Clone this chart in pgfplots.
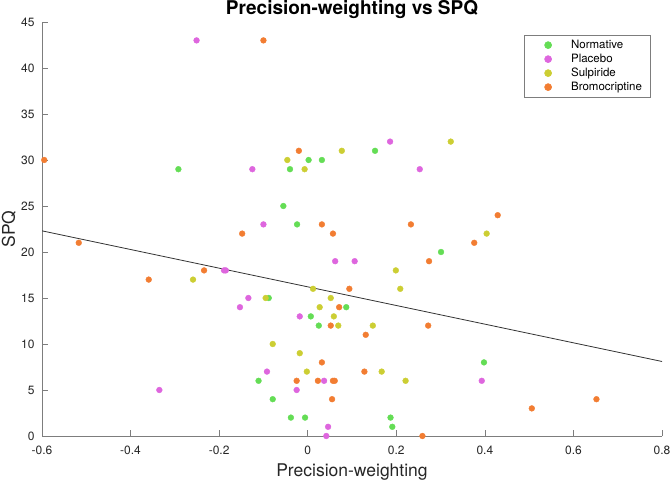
\documentclass[border=0pt]{standalone}
\usepackage{fontspec}
\setmainfont{TeX Gyre Heros}
\usepackage{pgfplots}
\pgfplotsset{compat=1.18}
\definecolor{cnorm}{RGB}{100,221,85}
\definecolor{cplac}{RGB}{222,102,222}
\definecolor{csulp}{RGB}{204,206,51}
\definecolor{cbrom}{RGB}{242,125,50}
\definecolor{axgray}{RGB}{125,125,125}
\begin{document}
\begin{tikzpicture}
\useasboundingbox (0,0) rectangle (671bp,480bp);
\begin{axis}[
  at={(42bp,44bp)}, anchor=south west,
  scale only axis, width=620bp, height=414bp,
  xmin=-0.6, xmax=0.8, ymin=0, ymax=45,
  axis lines*=left,
  axis line style={-, draw=axgray, line width=0.6bp},
  x axis line style={-}, y axis line style={-},
  xtick={-0.6,-0.4,-0.2,0,0.2,0.4,0.6,0.8},
  xticklabels={-0.6,-0.4,-0.2,0,0.2,0.4,0.6,0.8},
  ytick={0,5,10,15,20,25,30,35,40,45},
  tick align=inside, major tick length=6bp,
  tick style={draw=axgray, line width=0.6bp},
  ticklabel style={font=\fontsize{12bp}{14bp}\selectfont, text=black!85},
  /pgf/number format/assume math mode=true,
  xticklabel style={anchor=base, yshift=-18bp},
  yticklabel style={anchor=east, xshift=-4bp},
  label style={font=\fontsize{17.5bp}{20bp}\selectfont, text=black!85},
  xlabel={Precision-weighting},
  xlabel style={at={(axis description cs:0.5,-0.0978)}, anchor=base},
  ylabel={SPQ},
  ylabel style={at={(axis description cs:-0.0436,0.5)}, anchor=base, rotate=0},
  legend style={at={(0.981,0.969)}, anchor=north east, draw=axgray, line width=0.6bp,
    font=\fontsize{11.5bp}{14bp}\selectfont, inner xsep=6.5bp, inner ysep=3bp, row sep=0pt,
    nodes={inner sep=1.5bp, text height=8.5bp, text depth=2.5bp}},
  legend cell align=left,
  legend image code/.code={\path[draw=none, fill=none] (0bp,-3bp) rectangle (39bp,3bp); \draw[#1, mark size=3.5bp] plot coordinates {(17.5bp,0bp)};},
  every axis plot/.append style={only marks, mark=*, mark size=2.9bp},
]
\addplot[sharp plot, no marks, draw=black!80, line width=0.8bp, forget plot] coordinates {(-0.6,22.3) (0.8,8.1)};
\addplot[mark options={draw=cnorm, fill=cnorm}] coordinates {
(-0.292,29) (-0.055,25) (-0.040,29) (0.002,30) (0.032,30) (-0.024,23) (0.152,31) (0.301,20)
(-0.088,15) (0.087,14) (0.007,13) (0.025,12) (-0.111,6) (-0.079,4) (-0.038,2) (-0.006,2)
(0.187,2) (0.191,1) (0.398,8)};
\addlegendentry{Normative}
\addplot[mark options={draw=cplac, fill=cplac}] coordinates {
(-0.251,43) (-0.125,29) (-0.100,23) (-0.189,18) (-0.185,18) (-0.153,14) (-0.134,15) (-0.018,13)
(0.062,19) (0.106,19) (0.186,32) (0.253,29) (-0.092,7) (-0.025,5) (0.037,6) (0.046,1)
(0.042,0) (-0.335,5) (0.393,6)};
\addlegendentry{Placebo}
\addplot[mark options={draw=csulp, fill=csulp}] coordinates {
(-0.046,30) (-0.007,29) (0.077,31) (0.323,32) (0.404,22) (0.199,18) (0.209,16) (0.012,16)
(-0.259,17) (-0.095,15) (0.052,15) (0.027,14) (0.059,13) (0.069,12) (0.147,12) (-0.079,10)
(-0.018,9) (-0.002,7) (0.167,7) (0.221,6)};
\addlegendentry{Sulpiride}
\addplot[mark options={draw=cbrom, fill=cbrom}] coordinates {
(-0.595,30) (-0.100,43) (-0.020,31) (0.032,23) (0.233,23) (-0.148,22) (0.057,22) (-0.517,21)
(-0.359,17) (-0.234,18) (0.376,21) (0.429,24) (0.274,19) (0.094,16) (0.071,14) (0.052,12)
(0.131,11) (0.272,12) (0.032,8) (0.128,7) (-0.025,6) (0.023,6) (0.057,6) (0.061,6)
(0.055,4) (0.506,3) (0.652,4) (0.259,0)};
\addlegendentry{Bromocriptine}
\end{axis}
\node[anchor=base, font=\fontsize{19bp}{22bp}\selectfont\bfseries, text=black] at (352bp,465bp) {Precision-weighting vs SPQ};
\end{tikzpicture}
\end{document}
